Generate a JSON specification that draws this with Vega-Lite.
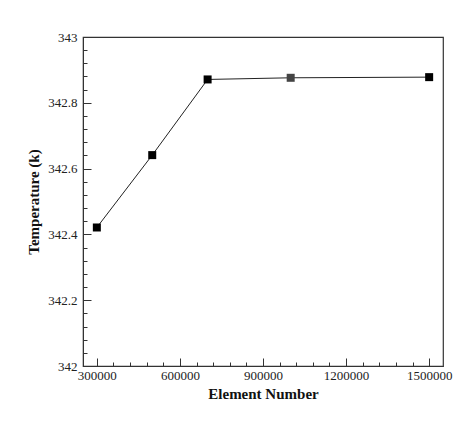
{
  "$schema": "https://vega.github.io/schema/vega-lite/v6.json",
  "width": 360,
  "height": 329,
  "autosize": {"type": "none"},
  "padding": {"left": 83, "top": 37, "right": 29, "bottom": 55},
  "background": "white",
  "config": {
    "view": {"stroke": "#333", "strokeWidth": 1.2},
    "axis": {
      "labelFont": "Liberation Serif",
      "titleFont": "Liberation Serif",
      "labelFontSize": 13,
      "titleFontSize": 15,
      "titleFontWeight": "bold",
      "labelColor": "#222",
      "titleColor": "#111",
      "domainColor": "#333",
      "tickColor": "#333",
      "grid": false
    }
  },
  "data": {
    "values": [
      {"elements": 300000, "temperature": 342.421},
      {"elements": 500000, "temperature": 342.641},
      {"elements": 700000, "temperature": 342.871},
      {"elements": 1000000, "temperature": 342.876},
      {"elements": 1500000, "temperature": 342.878}
    ]
  },
  "layer": [
    {
      "mark": {"type": "line", "color": "#222", "strokeWidth": 1},
      "encoding": {
        "x": {
          "field": "elements", "type": "quantitative",
          "scale": {"domain": [250000, 1550000], "nice": false, "zero": false},
          "axis": {"orient": "bottom", "values": [300000, 600000, 900000, 1200000, 1500000], "format": "d", "title": "Element Number", "tickSize": -8, "labelPadding": 11, "titlePadding": 4, "labelFlush": false}
        },
        "y": {
          "field": "temperature", "type": "quantitative",
          "scale": {"domain": [342, 343], "nice": false, "zero": false},
          "axis": {"orient": "left", "values": [342, 342.2, 342.4, 342.6, 342.8, 343], "format": ".1~f", "title": "Temperature (k)", "tickSize": -8, "labelPadding": 14, "titlePadding": 6}
        }
      }
    },
    {
      "mark": {"type": "square", "size": 64, "filled": true, "opacity": 1},
      "encoding": {
        "x": {
          "field": "elements", "type": "quantitative",
          "scale": {"domain": [250000, 1550000], "nice": false, "zero": false},
          "axis": {"orient": "bottom", "values": [360000, 420000, 480000, 540000, 660000, 720000, 780000, 840000, 960000, 1020000, 1080000, 1140000, 1260000, 1320000, 1380000, 1440000], "labels": false, "domain": false, "title": null, "tickSize": -4}
        },
        "y": {
          "field": "temperature", "type": "quantitative",
          "scale": {"domain": [342, 343], "nice": false, "zero": false},
          "axis": {"orient": "left", "values": [342.04, 342.08, 342.12, 342.16, 342.24, 342.28, 342.32, 342.36, 342.44, 342.48, 342.52, 342.56, 342.64, 342.68, 342.72, 342.76, 342.84, 342.88, 342.92, 342.96], "labels": false, "domain": false, "title": null, "tickSize": -4}
        },
        "color": {"condition": {"test": "datum.elements == 1000000", "value": "#444"}, "value": "#000"}
      }
    }
  ],
  "resolve": {"axis": {"x": "independent", "y": "independent"}}
}
